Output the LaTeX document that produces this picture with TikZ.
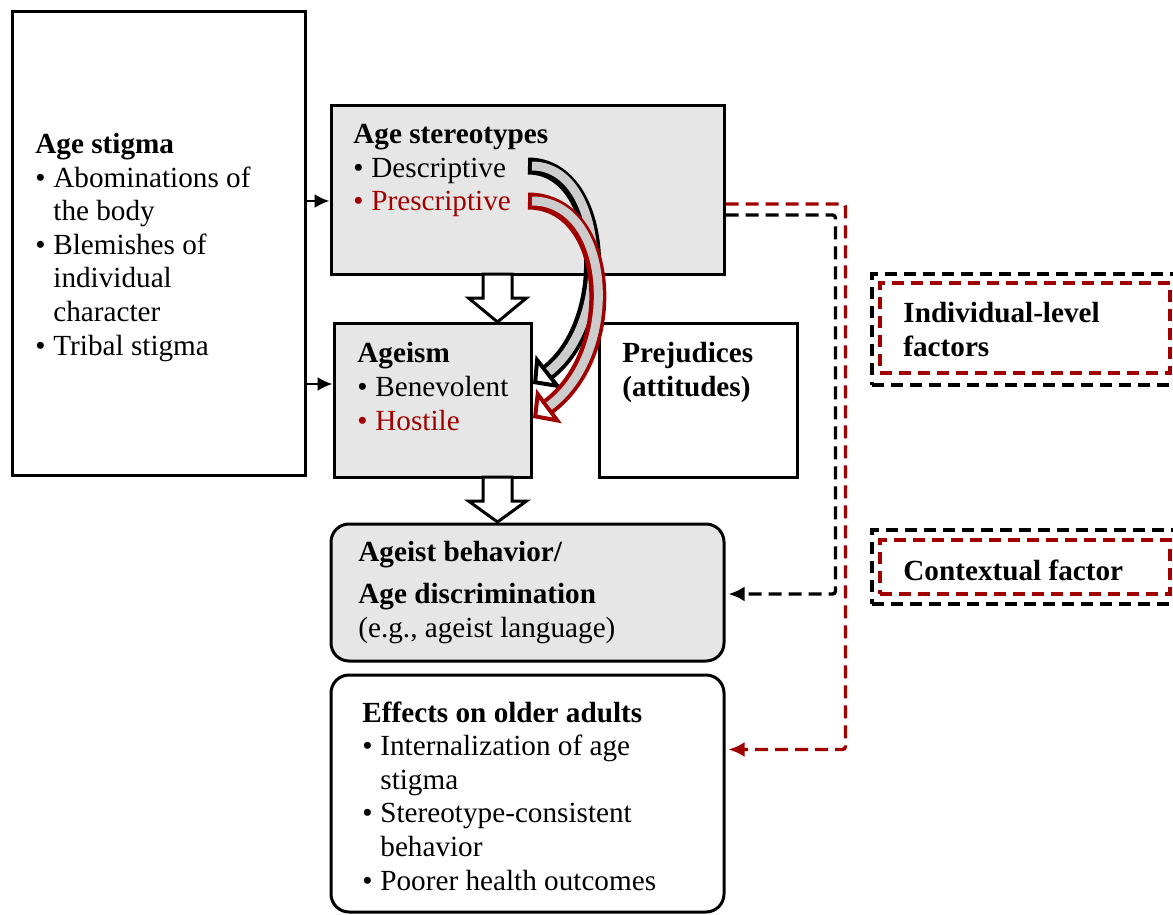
\documentclass[tikz,border=0pt]{standalone}
\usepackage{fontspec}
\setmainfont{Liberation Serif}
\usetikzlibrary{arrows.meta,positioning,calc}
\definecolor{dred}{RGB}{160,0,0}
\definecolor{boxgray}{RGB}{230,230,230}
\newcommand{\bul}{\makebox[9pt][l]{\textbullet}}
\newcommand{\ind}{\hspace*{9pt}}
% hollow block arrow pointing down: x centre, top y, tip y
\newcommand{\hollowdn}[3]{\draw[line width=1.5pt, fill=white, line join=miter]
  (#1-14.5,#2) -- (#1+14.5,#2) -- (#1+14.5,#2+24) -- (#1+29,#2+24) -- (#1,#3)
  -- (#1-29,#2+24) -- (#1-14.5,#2+24) -- cycle;}

\begin{document}
\begin{tikzpicture}[x=0.5pt, y=-0.5pt,
    box/.style={draw, line width=1.5pt, inner sep=0pt},
    txt/.style={anchor=base west, align=left, inner sep=0pt, font=\fontsize{14.6}{16.8}\selectfont},
    arr/.style={-{Latex[length=7.5pt,width=7pt]}, line width=1.1pt},
    dsh/.style={line width=1.7pt, dash pattern=on 6.5pt off 3.5pt, rounded corners=1.5pt, -{Latex[length=8pt,width=7.5pt]}},
    fbox/.style={draw, line width=1.7pt, dash pattern=on 6pt off 3.5pt, inner sep=0pt},
    band/.style={line width=8.5pt, -{Triangle[length=10pt,width=21pt,line width=2pt,fill=white]}},
    bandin/.style={line width=4.5pt, draw=black!20, shorten <=2pt, shorten >=10pt}
]
\useasboundingbox (0,0) rectangle (1173,915);

% boxes
\node[box, minimum width=146.5pt, minimum height=231.5pt] (stig) at (158.5,243.5) {};
\node[box, fill=boxgray, minimum width=196.5pt, minimum height=84pt] (ster) at (527.5,190) {};
\node[box, fill=boxgray, minimum width=98.5pt, minimum height=77pt] (agsm) at (432.5,400) {};
\node[box, minimum width=99pt, minimum height=77pt] (prej) at (698,400) {};
\node[box, fill=boxgray, rounded corners=9pt, minimum width=196.5pt, minimum height=68.5pt] (behav) at (527.5,592.5) {};
\node[box, rounded corners=9pt, minimum width=196.5pt, minimum height=118.5pt] (eff) at (527.5,793.5) {};

% factor boxes
\node[fbox, minimum width=159pt, minimum height=55.5pt] (indiv) at (1031,329.5) {};
\node[fbox, draw=dred, minimum width=145pt, minimum height=45pt] (indivin) at (1025,328) {};
\node[fbox, minimum width=159pt, minimum height=37pt] (ctx) at (1031,567) {};
\node[fbox, draw=dred, minimum width=145pt, minimum height=27pt] (ctxin) at (1025,567) {};

% texts (placed by the baseline of their last line)
\node[txt] (stigt) at (35,355) {\textbf{Age stigma}\\\bul Abominations of\\\ind the body\\\bul Blemishes of\\\ind individual\\\ind character\\\bul Tribal stigma};
\node[txt] (stert) at (353,211) {\textbf{Age stereotypes}\\\bul Descriptive\\{\color{dred}\bul Prescriptive}};
\node[txt] (agsmt) at (357,430) {\textbf{Ageism}\\\bul Benevolent\\{\color{dred}\bul Hostile}};
\node[txt] (prejt) at (622,396) {\textbf{Prejudices}\\\textbf{(attitudes)}};
\node[txt] (behavt) at (358,637) {\textbf{Ageist behavior/}\\[4.2pt]\textbf{Age discrimination}\\(e.g., ageist language)};
\node[txt] (efft) at (362,890) {\textbf{Effects on older adults}\\\bul Internalization of age\\\ind stigma\\\bul Stereotype-consistent\\\ind behavior\\\bul Poorer health outcomes};
\node[txt] (indivt) at (903,356) {\textbf{Individual-level}\\\textbf{factors}};
\node[txt] (ctxt) at (903,580) {\textbf{Contextual factor}};

% arrows from age stigma
\coordinate (in1) at ($(ster.west)+(0,11)$);
\coordinate (in2) at ($(agsm.west)+(0,-16)$);
\draw[arr] (stig.east |- in1) -- (in1);
\draw[arr] (stig.east |- in2) -- (in2);

% hollow block arrows
\hollowdn{497.5}{274}{322}
\hollowdn{497.5}{477}{522}

% curved arrows
\coordinate (desc) at (528,166);
\coordinate (presc) at (528,201);
\coordinate (benev) at (533,384);
\coordinate (host) at (533,418);
\draw[band] (desc) .. controls (605,166) and (615,320) .. (benev);
\draw[bandin] (desc) .. controls (605,166) and (615,320) .. (benev);
\draw[band, dred] (presc) .. controls (612,201) and (622,352) .. (host);
\draw[bandin] (presc) .. controls (612,201) and (622,352) .. (host);

% dashed connectors
\coordinate (outr) at ($(ster.east)+(0,14)$);
\coordinate (outb) at ($(ster.east)+(0,25)$);
\draw[dsh, dred] (outr) -- ++(120,0) |- ($(eff.east)+(3,-44)$);
\draw[dsh] (outb) -- ++(110,0) |- ($(behav.east)+(3,1.5)$);
\end{tikzpicture}
\end{document}
